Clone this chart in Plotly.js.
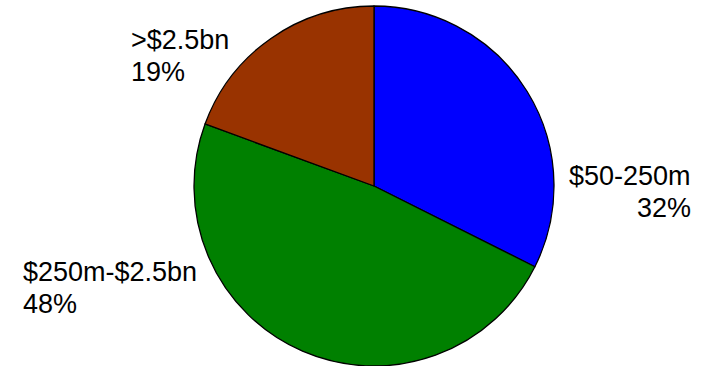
<!DOCTYPE html>
<html>
<head>
<meta charset="utf-8">
<script src="https://cdn.plot.ly/plotly-3.0.1.min.js"></script>
<style>html,body{margin:0;padding:0;background:#fff;}#chart{width:706px;height:366px;}</style>
</head>
<body>
<div id="chart"></div>
<script>
const categories = ["$50-250m", "$250m-$2.5bn", ">$2.5bn"];
const shares = [32.4, 48.2, 19.4];
const sliceColors = ["#0000FF", "#008000", "#993300"];

const W = 706, H = 366;
const FS = 27;
const total = shares.reduce((a, b) => a + b, 0);
const pctText = shares.map(v => Math.round(v / total * 100) + "%");

// label placement: x anchor and baselines (pixels) of the two lines
const labelPos = [
  {x: 692, b1: 185.5, b2: 217.5, xanchor: "right"},
  {x: 22, b1: 281.5, b2: 313, xanchor: "left"},
  {x: 130, b1: 49, b2: 81, xanchor: "left"}
];

const annotations = [];
categories.forEach((c, i) => {
  const p = labelPos[i];
  [[c, p.b1], [pctText[i], p.b2]].forEach(([txt, base]) => {
    annotations.push({
      text: txt,
      xref: "paper", yref: "paper",
      x: p.x / W, y: 1 - (base - 0.3465 * FS) / H,
      xanchor: p.xanchor, yanchor: "middle",
      align: p.xanchor,
      showarrow: false, borderpad: 0,
      font: {family: "Liberation Sans, Arial, sans-serif", size: FS, color: "#000"}
    });
  });
});

const cx = 374, cy = 186, r = 180;
const trace = {
  type: "pie",
  labels: categories,
  values: shares,
  sort: false,
  direction: "clockwise",
  rotation: 0,
  textinfo: "none",
  hoverinfo: "label+percent",
  marker: {colors: sliceColors, line: {color: "#000", width: 1.3}},
  domain: {x: [(cx - r) / W, (cx + r) / W], y: [1 - (cy + r) / H, 1 - (cy - r) / H]}
};

Plotly.newPlot("chart", [trace], {
  width: W, height: H,
  margin: {l: 0, r: 0, t: 0, b: 0},
  showlegend: false,
  paper_bgcolor: "#fff",
  annotations: annotations
}, {displayModeBar: false, staticPlot: true});
</script>
</body>
</html>
